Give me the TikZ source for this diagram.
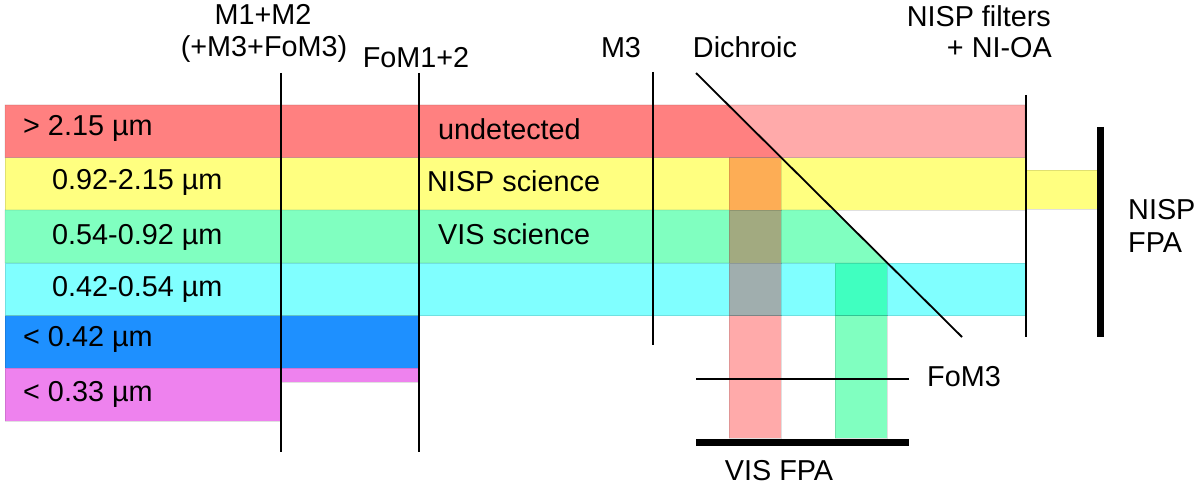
\documentclass[tikz,border=0pt]{standalone}
\usepackage{fontspec}
\setmainfont{Liberation Sans}
\definecolor{cred}{HTML}{FF8080}
\definecolor{cpink}{HTML}{FFAAAA}
\definecolor{cyel}{HTML}{FFFF80}
\definecolor{cgreen}{HTML}{80FFC0}
\definecolor{ccyan}{HTML}{80FFFF}
\definecolor{cblue}{HTML}{1E90FF}
\definecolor{cmag}{HTML}{EE82EE}
\definecolor{corange}{HTML}{FDAD55}
\definecolor{colive}{HTML}{A2AA80}
\definecolor{cgray}{HTML}{A0AEAE}
\definecolor{cteal}{HTML}{40FFC0}
\begin{document}
\begin{tikzpicture}[x=1pt,y=-1pt,
  band/.style={draw=black,draw opacity=0.12,line width=0.7pt},
  txt/.style={font=\fontsize{28.8}{33}\selectfont,inner sep=0pt},
  lw/.style={txt,anchor=base west},
  lc/.style={txt,anchor=base},
  optic/.style={line width=1.8pt},
  fpa/.style={line width=7pt}]
\useasboundingbox (0,0) rectangle (1200,486);
% bands
\fill[cred,band] (5,105) -- (728,105) -- (781,157.7) -- (5,157.7) -- cycle;
\fill[cpink,band] (728,105) -- (1025,105) -- (1025,157.7) -- (781,157.7) -- cycle;
\fill[cyel,band] (5,157.7) rectangle (1025,210);
\fill[cyel,band] (1025,170) rectangle (1097,209);
\fill[cgreen,band] (5,210) -- (834,210) -- (887,263) -- (5,263) -- cycle;
\fill[ccyan,band] (5,263) rectangle (1025,315.6);
\fill[cblue,band] (5,315.6) rectangle (419,368);
\fill[cmag,band] (5,368) rectangle (281,421);
\fill[cmag,band] (281,368) rectangle (419,382);
% reflected columns
\fill[corange,band] (729,157.7) rectangle (781,210);
\fill[colive,band] (729,210) rectangle (781,263);
\fill[cgray,band] (729,263) rectangle (781,315.6);
\fill[cpink,band] (729,315.6) rectangle (781,438);
\fill[cteal,band] (835,263) rectangle (887,315.6);
\fill[cgreen,band] (835,315.6) rectangle (887,438);
% optical elements
\coordinate (m12t) at (281,73);   \coordinate (m12b) at (281,452);
\coordinate (fomt) at (419,73);   \coordinate (fomb) at (419,452);
\coordinate (m3t) at (653,72);    \coordinate (m3b) at (653,345);
\coordinate (dit) at (696,73);    \coordinate (dib) at (962,337);
\coordinate (nft) at (1025.7,95); \coordinate (nfb) at (1025.7,337);
\coordinate (npt) at (1100,127);  \coordinate (npb) at (1100,337);
\coordinate (f3l) at (696,379);   \coordinate (f3r) at (909,379);
\coordinate (vfl) at (696,442);   \coordinate (vfr) at (909,442);
\draw[optic] (m12t) -- (m12b);
\draw[optic] (fomt) -- (fomb);
\draw[optic] (m3t) -- (m3b);
\draw[optic] (dit) -- (dib);
\draw[optic] (nft) -- (nfb);
\draw[fpa] (npt) -- (npb);
\draw[optic,line width=1.5pt] (f3l) -- (f3r);
\draw[fpa] (vfl) -- (vfr);
% band labels
\node[lw] (l1) at (23,136) {> 2.15 µm};
\node[lw] (l2) at (52,190) {0.92-2.15 µm};
\node[lw] (l3) at (52,245) {0.54-0.92 µm};
\node[lw] (l4) at (52,297) {0.42-0.54 µm};
\node[lw] (l5) at (23,347) {< 0.42 µm};
\node[lw] (l6) at (23,402) {< 0.33 µm};
\node[lw] (und) at (438,140) {undetected};
\node[lw] (nsci) at (427,192) {NISP science};
\node[lw] (vsci) at (438,245) {VIS science};
% element labels
\node[lc] (m12a) at (263,25) {M1+M2};
\node[lc] (m12c) at (264,57) {(+M3+FoM3)};
\node[lc] (fom12) at (416,68) {FoM1+2};
\node[lc] (m3) at (621,58) {M3};
\node[lc] (dich) at (745,58) {Dichroic};
\node[txt,anchor=base east] (nf1) at (1051,27) {NISP filters};
\node[txt,anchor=base east] (nf2) at (1052,58) {+ NI-OA};
\node[lw] (np1) at (1128,220) {NISP};
\node[lw] (np2) at (1128,253) {FPA};
\node[lw] (fom3) at (927,386) {FoM3};
\node[lc] (visfpa) at (779,480) {VIS FPA};
\end{tikzpicture}
\end{document}
